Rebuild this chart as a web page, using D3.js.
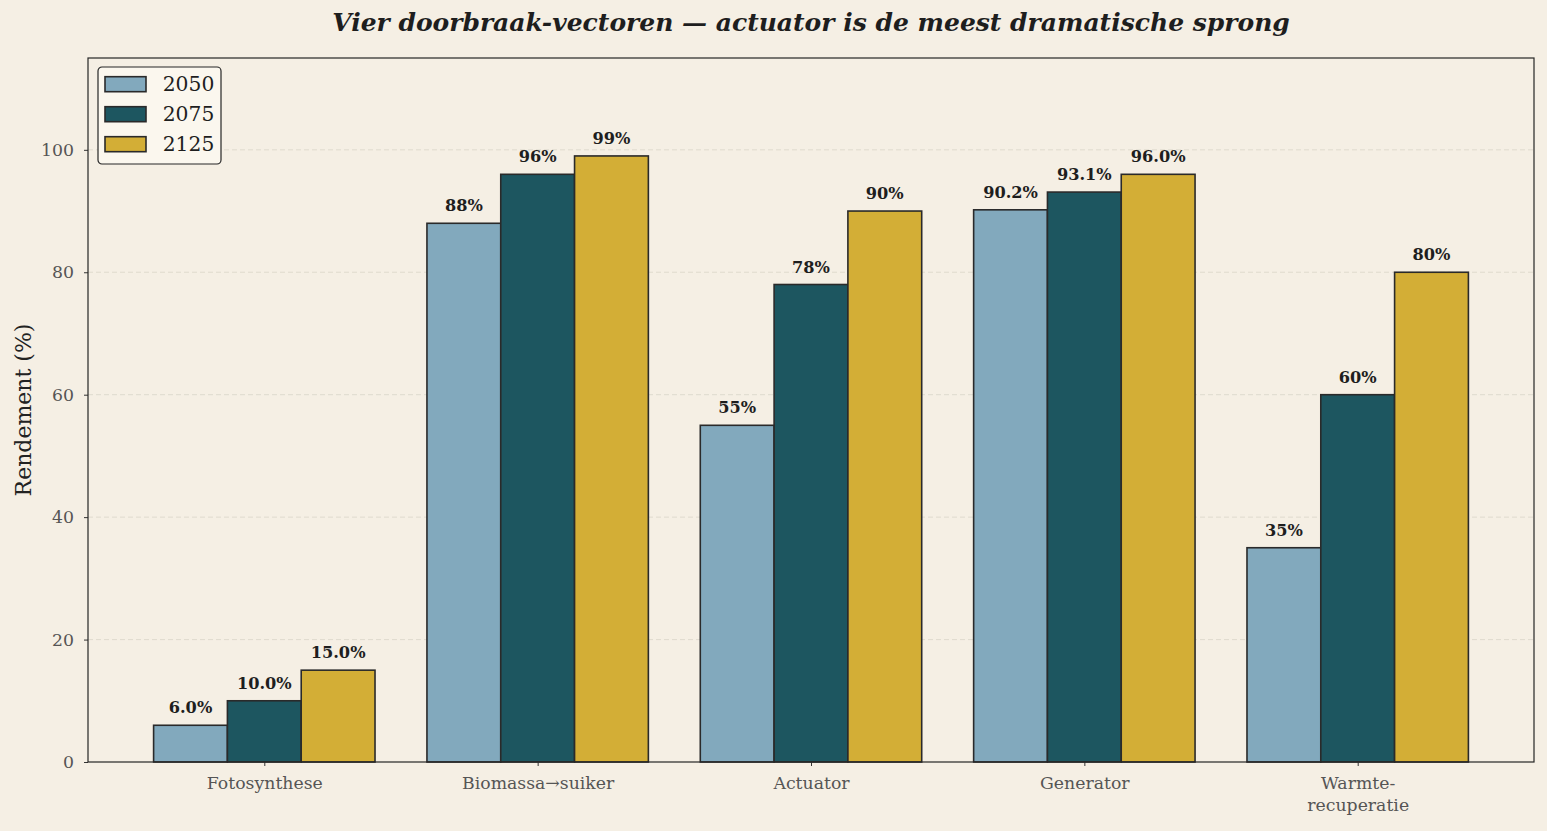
<!DOCTYPE html>
<html>
<head>
<meta charset="utf-8">
<script src="https://cdn.jsdelivr.net/npm/d3@7"></script>
<style>
  body { margin: 0; background: #f5efe4; }
  svg { display: block; font-family: "DejaVu Serif", serif; }
</style>
</head>
<body>
<svg id="chart" width="1547" height="831"></svg>
<script>
// data
const categories = ["Fotosynthese", "Biomassa\u2192suiker", "Actuator", "Generator", "Warmte-\nrecuperatie"];
const years = ["2050", "2075", "2125"];
const v2050 = [6.0, 88, 55, 90.2, 35];
const v2075 = [10.0, 96, 78, 93.1, 60];
const v2125 = [15.0, 99, 90, 96.0, 80];
const labels2050 = ["6.0%", "88%", "55%", "90.2%", "35%"];
const labels2075 = ["10.0%", "96%", "78%", "93.1%", "60%"];
const labels2125 = ["15.0%", "99%", "90%", "96.0%", "80%"];
const yTicks = [0, 20, 40, 60, 80, 100];
const colors = ["#82a9bd", "#1d5660", "#d3ae36"];

const seriesVals = [v2050, v2075, v2125];
const seriesLabels = [labels2050, labels2075, labels2125];

const svg = d3.select("#chart");
const margin = {top: 58, right: 13, bottom: 69, left: 88};
const W = 1547, H = 831;
const width = W - margin.left - margin.right,
      height = H - margin.top - margin.bottom;

const barW = 0.27;
const x = d3.scaleLinear().domain([-0.645, 4.645]).range([0, width]);
const y = d3.scaleLinear().domain([0, 115]).range([height, 0]);

const g = svg.append("g").attr("transform", `translate(${margin.left},${margin.top})`);

// grid
g.append("g").selectAll("line").data(yTicks.slice(1)).enter().append("line")
  .attr("x1", 0).attr("x2", width)
  .attr("y1", d => y(d)).attr("y2", d => y(d))
  .attr("stroke", "#ddd8cc").attr("stroke-dasharray", "5,3").attr("stroke-width", 0.9);

// bars
seriesVals.forEach((vals, s) => {
  const off = (s - 1) * barW;
  g.append("g").selectAll("rect").data(vals).enter().append("rect")
    .attr("x", (d, i) => x(i + off - barW / 2))
    .attr("width", x(barW) - x(0))
    .attr("y", d => y(d))
    .attr("height", d => y(0) - y(d))
    .attr("fill", colors[s])
    .attr("stroke", "#2a2a2a").attr("stroke-width", 1.6);
  g.append("g").selectAll("text").data(vals).enter().append("text")
    .attr("x", (d, i) => x(i + off))
    .attr("y", d => y(d) - 12)
    .attr("text-anchor", "middle")
    .attr("font-size", 16.2).attr("font-weight", "bold").attr("fill", "#1e1e1e")
    .text((d, i) => seriesLabels[s][i]);
});

// axes
const yAxis = g.append("g").call(d3.axisLeft(y).tickValues(yTicks).tickSize(4).tickPadding(10));
yAxis.select(".domain").remove();
yAxis.selectAll("text").attr("font-size", 17.3).attr("fill", "#555").attr("font-family", "DejaVu Serif");
yAxis.selectAll("line").attr("stroke", "#333");

const xAxis = g.append("g").attr("transform", `translate(0,${height})`)
  .call(d3.axisBottom(x).tickValues(d3.range(categories.length)).tickSize(4).tickFormat(""));
xAxis.select(".domain").remove();
xAxis.selectAll("line").attr("stroke", "#333");
xAxis.selectAll(".tick").each(function(d) {
  const lines = categories[d].split("\n");
  const t = d3.select(this).append("text")
    .attr("fill", "#555").attr("font-size", 17.3).attr("text-anchor", "middle")
    .attr("font-family", "DejaVu Serif");
  lines.forEach((ln, k) => {
    t.append("tspan").attr("x", 0).attr("y", 27 + k * 21.5).text(ln);
  });
});

// frame
g.append("rect").attr("width", width).attr("height", height)
  .attr("fill", "none").attr("stroke", "#262626").attr("stroke-width", 1.2);

// y label
svg.append("text")
  .attr("transform", `translate(31,${margin.top + height / 2}) rotate(-90)`)
  .attr("text-anchor", "middle").attr("font-size", 22).attr("fill", "#222")
  .text("Rendement (%)");

// title
svg.append("text")
  .attr("x", margin.left + width / 2).attr("y", 31)
  .attr("text-anchor", "middle").attr("font-size", 25).attr("font-weight", "bold")
  .attr("font-style", "italic").attr("fill", "#1e1e1e")
  .text("Vier doorbraak-vectoren \u2014 actuator is de meest dramatische sprong");

// legend
const lg = svg.append("g").attr("transform", "translate(98,67)");
lg.append("rect").attr("width", 123).attr("height", 97).attr("rx", 4)
  .attr("fill", "#fbf7ee").attr("stroke", "#262626").attr("stroke-width", 1.2);
years.forEach((yr, i) => {
  const row = lg.append("g").attr("transform", `translate(7,${9.7 + i * 30})`);
  row.append("rect").attr("width", 41).attr("height", 15)
    .attr("fill", colors[i]).attr("stroke", "#2a2a2a").attr("stroke-width", 1.6);
  row.append("text").attr("x", 57.7).attr("y", 14.3).attr("font-size", 20.3).attr("fill", "#1e1e1e").text(yr);
});
</script>
</body>
</html>
